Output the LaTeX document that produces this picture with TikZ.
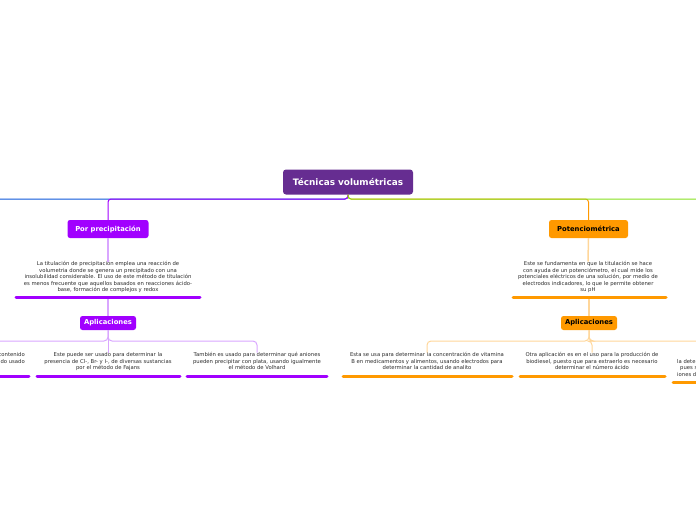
\documentclass[tikz,border=0pt]{standalone}
\usepackage{fontspec}
\setmainfont{DejaVu Sans}
\definecolor{rootc}{HTML}{662D91}
\definecolor{violet1}{HTML}{A100FF}
\definecolor{violetl}{HTML}{D9A6FF}
\definecolor{bluel}{HTML}{0B56D9}
\definecolor{greenl}{HTML}{86E01F}
\definecolor{orange1}{HTML}{FF9900}
\definecolor{orangel}{HTML}{FFD699}
\definecolor{txt}{HTML}{2A2A2A}
\tikzset{
  rootbox/.style={rounded corners=3pt, fill=rootc, inner sep=0pt, minimum width=130pt, minimum height=25pt,
    text=white, font=\bfseries\fontsize{8.9}{10}\selectfont},
  topicbox/.style={rounded corners=2.5pt, inner sep=0pt, font=\bfseries\fontsize{6.8}{8}\selectfont},
  desc/.style={align=center, inner sep=0pt, text=txt, font=\fontsize{5.3}{6.5}\selectfont},
  mainline/.style={line width=1pt, rounded corners=3pt},
  subline/.style={line width=1pt, rounded corners=4pt},
  uline/.style={line width=3pt, line cap=round},
}
\begin{document}
\begin{tikzpicture}[x=1pt,y=-1pt]
\useasboundingbox (0,0) rectangle (696,520);
% nodes
\node[rootbox] (root) at (348,182) {Técnicas volumétricas};
\node[topicbox, fill=violet1, text=white, minimum width=81pt, minimum height=18pt] (prec) at (108,229) {Por precipitación};
\node[topicbox, fill=orange1, text=black, minimum width=79pt, minimum height=18pt] (pot) at (588.5,229) {Potenciométrica};
\node[desc, anchor=north] (pt) at (108,261.5) {La titulación de precipitación emplea una reacción de\\volumetria donde se genera un precipitado con una\\insolubilidad considerable. El uso de este método de titulación\\es menos frecuente que aquellos basados en reacciones ácido-\\base, formación de complejos y redox};
\node[desc, anchor=north] (ptx) at (588,261.5) {Este se fundamenta en que la titulación se hace\\con ayuda de un potenciómetro, el cual mide los\\potenciales eléctricos de una solución, por medio de\\electrodos indicadores, lo que le permite obtener\\su pH};
\coordinate (pu) at (108,297.5);
\coordinate (ou) at (589,297.5);
\node[topicbox, fill=violet1, text=white, minimum width=56pt, minimum height=14pt] (apl) at (108,323) {Aplicaciones};
\node[topicbox, fill=orange1, text=black, minimum width=56pt, minimum height=14pt] (apr) at (589,323) {Aplicaciones};
% left children
\node[desc, anchor=north east, align=right] (c1) at (25,352.5) {contenido\\do usado};
\node[desc, anchor=north] (c2) at (108,352.5) {Este puede ser usado para determinar la\\presencia de Cl-, Br- y I-, de diversas sustancias\\por el método de Fajans};
\node[desc, anchor=north] (c3) at (257,352.5) {También es usado para determinar qué aniones\\pueden precipitar con plata, usando igualmente\\el método de Volhard};
% right children
\node[desc, anchor=north] (d1) at (427,352.5) {Esta se usa para determinar la concentración de vitamina\\B en medicamentos y alimentos, usando electrodos para\\determinar la cantidad de analito};
\node[desc, anchor=north] (d2) at (592,352.5) {Otra aplicación es en el uso para la producción de\\biodiesel, puesto que para extraerlo es necesario\\determinar el número ácido};
\node[desc, anchor=north west, align=left] (d3) at (677,359) {la dete\\\hspace{3pt}pues s\\iones d};
% free ends
\coordinate (lend) at (-10,199);
\coordinate (rend) at (710,199);
\coordinate (c1top) at (-10,341);
\coordinate (d3top) at (710,341);
% main connectors
\draw[mainline, bluel] (root.south) -- (root.south |- 0,199) -- (lend);
\draw[mainline, violet1] (root.south) -- (root.south |- 0,199) -| (prec.north);
\draw[mainline, orange1] (root.south) -- (root.south |- 0,199) -| (pot.north);
\draw[mainline, greenl] (root.south) -- (root.south |- 0,199) -- (rend);
% vertical connectors
\draw[line width=1.5pt, violetl] (prec.south) -- (pt.north);
\draw[line width=1.5pt, violetl] (pu) -- (apl.north);
\draw[line width=1.5pt, orangel] (pot.south) -- (ptx.north);
\draw[line width=1.5pt, orangel] (ou) -- (apr.north);
% underlines
\draw[uline, violet1] (16,297.5) -- (200,297.5);
\draw[uline, orange1] (513,297.5) -- (666,297.5);
% children connectors left
\draw[subline, violetl] (apl.south) -- (apl.south |- 0,341) -- (c1top);
\draw[subline, violetl] (apl.south) -- (c2.north);
\draw[subline, violetl] (apl.south) -- (apl.south |- 0,341) -| (c3.north);
% children connectors right
\draw[subline, orangel] (apr.south) -- (apr.south |- 0,341) -| (d1.north);
\draw[subline, orangel] (apr.south) -- (apr.south |- 0,341) -| (d2.north);
\draw[subline, orangel] (apr.south) -- (apr.south |- 0,341) -- (d3top);
% child underlines
\draw[uline, violet1] (-5,376) -- (29,376);
\draw[uline, violet1] (37,376) -- (180,376);
\draw[uline, violet1] (187,376) -- (327,376);
\draw[uline, orange1] (343,376) -- (512,376);
\draw[uline, orange1] (520,376) -- (665,376);
\draw[uline, orange1] (673,382) -- (705,382);
\end{tikzpicture}
\end{document}
